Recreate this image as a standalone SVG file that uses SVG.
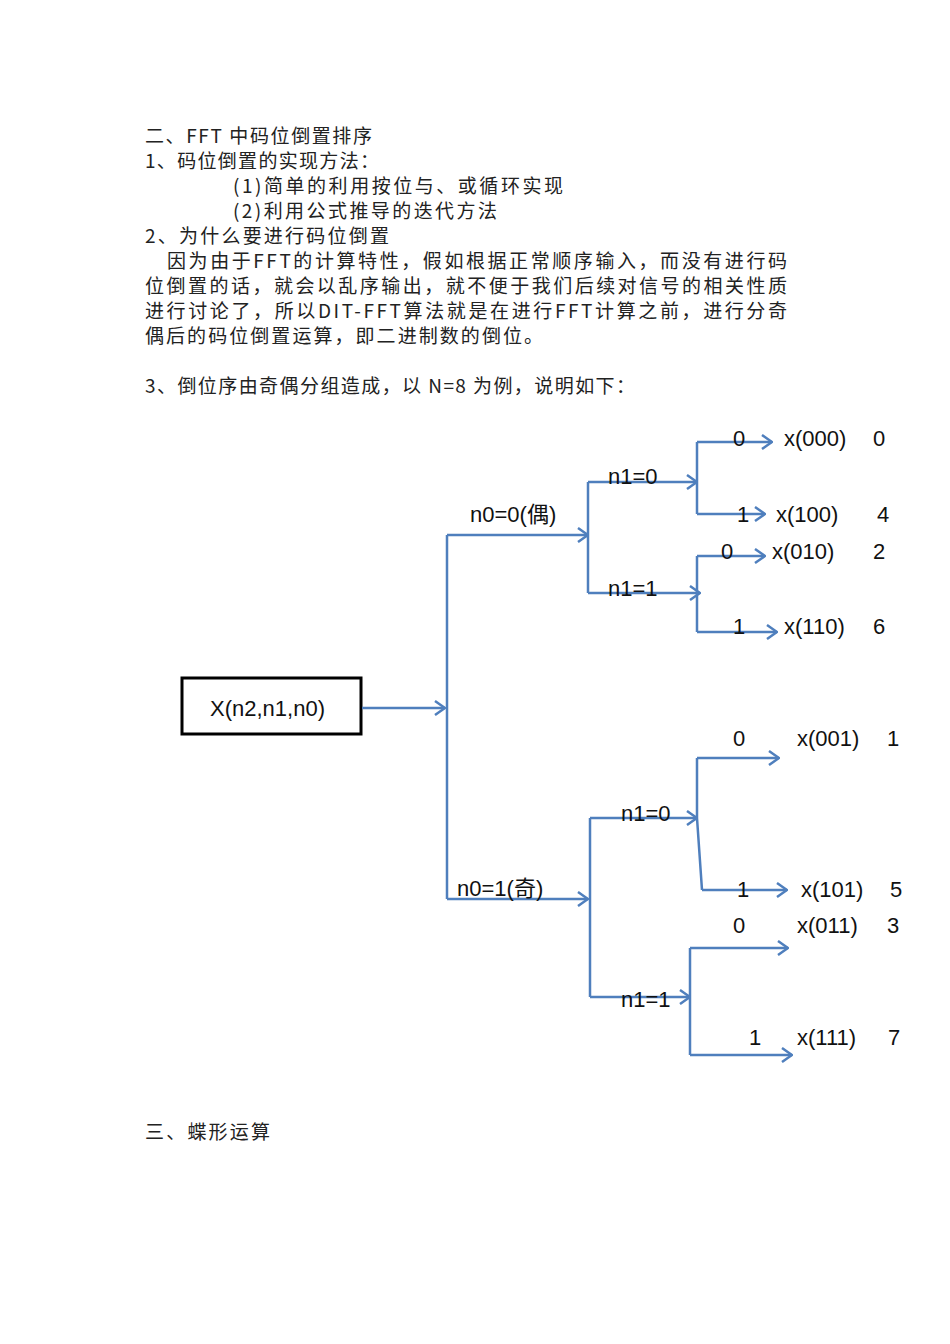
<svg xmlns="http://www.w3.org/2000/svg" width="950" height="1344" viewBox="0 0 950 1344">
<style>
.t{font-family:"Noto Sans CJK SC","Liberation Mono",monospace;font-size:19px;fill:#222}
.l{font-family:"Liberation Sans","Noto Sans CJK SC",sans-serif;font-size:22px;fill:#111}
.c{stroke:#4f7fbd;stroke-width:2.5;fill:none}
</style>
<defs><marker id="a" viewBox="0 0 12 16" refX="11" refY="8" markerWidth="12" markerHeight="16" markerUnits="userSpaceOnUse" orient="auto"><path d="M1,1 L11,8 L1,15" fill="none" stroke="#4f7fbd" stroke-width="2.5"/></marker></defs>
<rect width="950" height="1344" fill="#fff"/>
<g id="text">
<text class="t" x="145" y="143" textLength="227">二、FFT 中码位倒置排序</text>
<text class="t" x="145" y="168" textLength="234">1、码位倒置的实现方法：</text>
<text class="t" x="233" y="193" textLength="330">(1)简单的利用按位与、或循环实现</text>
<text class="t" x="233" y="218" textLength="264">(2)利用公式推导的迭代方法</text>
<text class="t" x="145" y="243" textLength="244">2、为什么要进行码位倒置</text>
<text class="t" x="167" y="268" textLength="620">因为由于FFT的计算特性，假如根据正常顺序输入，而没有进行码</text>
<text class="t" x="145" y="293" textLength="642">位倒置的话，就会以乱序输出，就不便于我们后续对信号的相关性质</text>
<text class="t" x="145" y="318" textLength="642">进行讨论了，所以DIT-FFT算法就是在进行FFT计算之前，进行分奇</text>
<text class="t" x="145" y="343" textLength="398">偶后的码位倒置运算，即二进制数的倒位。</text>
<text class="t" x="145" y="393" textLength="490">3、倒位序由奇偶分组造成，以 N=8 为例，说明如下：</text>
<text class="t" x="145" y="1139" textLength="125">三、蝶形运算</text>
</g>
<g id="root"><rect x="182" y="678" width="179" height="56" fill="none" stroke="#000" stroke-width="3"/><text class="l" x="210" y="716">X(n2,n1,n0)</text></g>
<g id="connectors" class="c">
<path d="M362,708 H445" marker-end="url(#a)"/>
<path d="M447,535 V899"/>
<path d="M447,535 H588" marker-end="url(#a)"/>
<path d="M447,899 H588" marker-end="url(#a)"/>
<path d="M588,482 V593"/>
<path d="M588,482 H697" marker-end="url(#a)"/>
<path d="M588,593 H700" marker-end="url(#a)"/>
<path d="M697,442 V514"/>
<path d="M697,442 H772" marker-end="url(#a)"/>
<path d="M697,514 H765" marker-end="url(#a)"/>
<path d="M697,556 V632"/>
<path d="M697,556 H765" marker-end="url(#a)"/>
<path d="M697,632 H777" marker-end="url(#a)"/>
<path d="M590,818 V997"/>
<path d="M590,818 H697" marker-end="url(#a)"/>
<path d="M590,997 H690" marker-end="url(#a)"/>
<path d="M697,758 V818 L702,890"/>
<path d="M697,758 H779" marker-end="url(#a)"/>
<path d="M702,890 H787" marker-end="url(#a)"/>
<path d="M690,948 V1055"/>
<path d="M690,948 H788" marker-end="url(#a)"/>
<path d="M690,1055 H792" marker-end="url(#a)"/>
</g>
<g id="labels">
<text class="l" x="470" y="522">n0=0(偶)</text>
<text class="l" x="457" y="896">n0=1(奇)</text>
<text class="l" x="608" y="484">n1=0</text>
<text class="l" x="608" y="596">n1=1</text>
<text class="l" x="621" y="821">n1=0</text>
<text class="l" x="621" y="1007">n1=1</text>
<text class="l" x="733" y="446">0</text><text class="l" x="784" y="446">x(000)</text><text class="l" x="873" y="446">0</text>
<text class="l" x="737" y="522">1</text><text class="l" x="776" y="522">x(100)</text><text class="l" x="877" y="522">4</text>
<text class="l" x="721" y="559">0</text><text class="l" x="772" y="559">x(010)</text><text class="l" x="873" y="559">2</text>
<text class="l" x="733" y="634">1</text><text class="l" x="784" y="634">x(110)</text><text class="l" x="873" y="634">6</text>
<text class="l" x="733" y="746">0</text><text class="l" x="797" y="746">x(001)</text><text class="l" x="887" y="746">1</text>
<text class="l" x="737" y="897">1</text><text class="l" x="801" y="897">x(101)</text><text class="l" x="890" y="897">5</text>
<text class="l" x="733" y="933">0</text><text class="l" x="797" y="933">x(011)</text><text class="l" x="887" y="933">3</text>
<text class="l" x="749" y="1045">1</text><text class="l" x="797" y="1045">x(111)</text><text class="l" x="888" y="1045">7</text>
</g>
</svg>
